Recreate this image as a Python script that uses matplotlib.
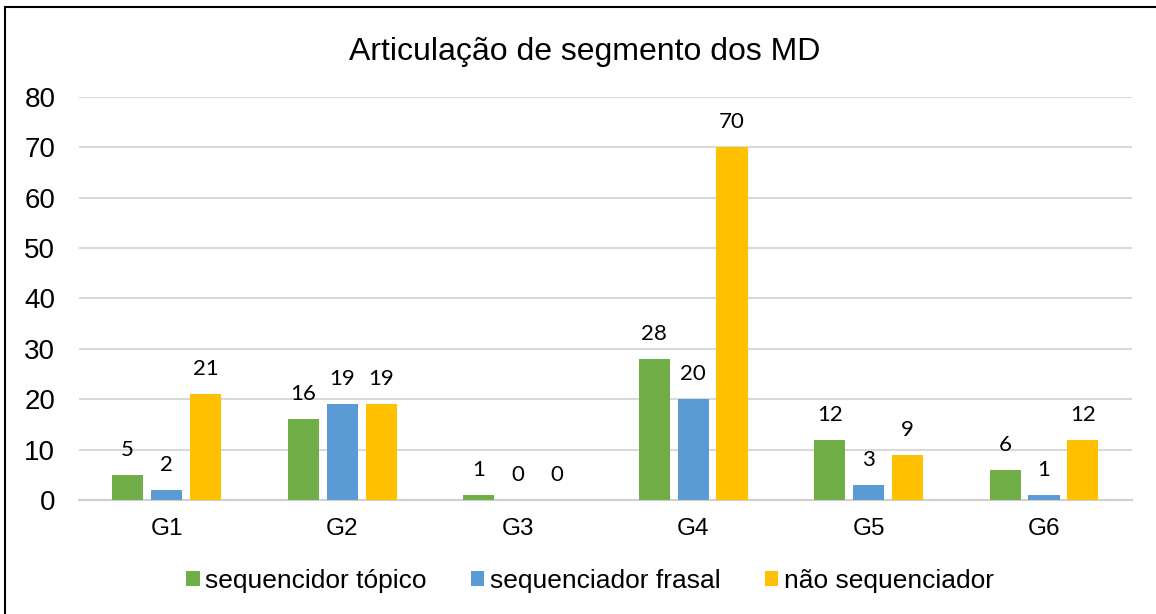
import numpy as np
import matplotlib.pyplot as plt
from matplotlib.patches import Rectangle

grupos = ['G1', 'G2', 'G3', 'G4', 'G5', 'G6']
seq_topico = [5, 16, 1, 28, 12, 6]
seq_frasal = [2, 19, 0, 20, 3, 1]
nao_seq = [21, 19, 0, 70, 9, 12]
series = ['sequencidor tópico', 'sequenciador frasal', 'não sequenciador']
cores = ['#70AD47', '#5B9BD5', '#FFC000']

plt.rcParams['font.family'] = ['Liberation Sans', 'DejaVu Sans']

fig = plt.figure(figsize=(11.56, 6.14), dpi=100)
ax = fig.add_axes([0.0683, 0.1857, 0.9107, 0.6563])

x = np.arange(len(grupos))
larg = 0.177
passo = 0.222
for i, (vals, nome, cor) in enumerate(zip([seq_topico, seq_frasal, nao_seq], series, cores)):
    pos = x + (i - 1) * passo
    barras = ax.bar(pos, vals, larg, color=cor, label=nome, zorder=3)
    for b, v in zip(barras, vals):
        ax.annotate(str(v), (b.get_x() + b.get_width() / 2, v), xytext=(0, 18),
                    textcoords='offset points', ha='center', va='center',
                    fontsize=16, family=['Lato', 'DejaVu Sans'])

ax.set_xlim(-0.5, 5.5)
ax.set_ylim(0, 80)
ax.set_yticks(range(0, 81, 10))
ax.set_xticks(x)
ax.set_xticklabels(grupos)
ax.tick_params(axis='y', length=0, labelsize=20, pad=17)
ax.tick_params(axis='x', length=0, labelsize=17.5, pad=13)
ax.grid(axis='y', color='#d9d9d9', linewidth=1.5, zorder=0)
for s in ['top', 'right', 'left']:
    ax.spines[s].set_visible(False)
ax.spines['bottom'].set_color('#d0d0d0')
ax.spines['bottom'].set_linewidth(1.5)

fig.text(585 / 1156, 1 - 52 / 614, 'Articulação de segmento dos MD', fontsize=23,
         ha='center', va='center')

fig.legend(loc='center', bbox_to_anchor=(590 / 1156, 1 - 581 / 614), ncol=3, frameon=False,
           fontsize=19, handlelength=0.5, handleheight=0.5, handletextpad=0.2,
           columnspacing=1.7)

# moldura do grafico
fig.patches.append(Rectangle((5 / 1156, -0.1), 1.2, 1 - 7 / 614 + 0.1,
                             transform=fig.transFigure, fill=False,
                             edgecolor='black', linewidth=1.5))

fig.savefig('out.png', dpi=100)
